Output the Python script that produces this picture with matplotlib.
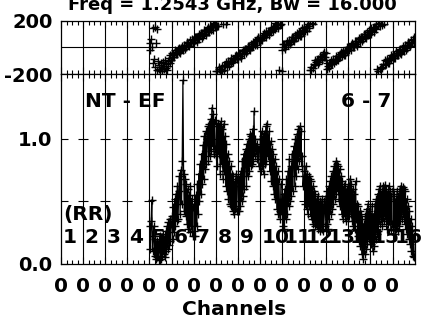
import matplotlib
matplotlib.use('Agg')
import matplotlib.pyplot as plt
import numpy as np

plt.rcParams['font.family'] = ['DejaVu Sans']
plt.rcParams['font.weight'] = 'bold'

# ---------------- data ----------------
n_if = 16
n_chan = 32
first_if = 5
if_labels = [str(i) for i in range(1, 17)]
xtick_labels = ['0'] * 16
title = 'Freq = 1.2543 GHz, Bw = 16.000'
baseline_label = 'NT - EF'
ant_label = '6 - 7'
pol_label = '(RR)'
phase_ticks = [-200, 200]
phase_tick_labels = ['-200', '200']
amp_ticks = [0.0, 0.5, 1.0]
amp_tick_labels = ['0.0', '', '1.0']

amp_if05 = [0.30, 0.12, 0.34, 0.51, 0.10, 0.22, 0.30, 0.06, 0.20, 0.04, 0.18, 0.05, 0.16, 0.03, 0.12, 0.22,
            0.04, 0.18, 0.06, 0.24, 0.08, 0.20, 0.05, 0.26, 0.10, 0.30, 0.12, 0.33, 0.15, 0.36, 0.18, 0.32]
amp_if06 = [0.38, 0.20, 0.45, 0.25, 0.52, 0.30, 0.56, 0.34, 0.62, 0.36, 0.58, 0.70, 0.40, 0.75, 0.48, 0.82,
            1.47, 0.72, 0.42, 0.68, 0.38, 0.64, 0.32, 0.60, 0.28, 0.55, 0.25, 0.62, 0.30, 0.52, 0.22, 0.45]
amp_if07 = [0.26, 0.48, 0.22, 0.55, 0.30, 0.64, 0.40, 0.72, 0.50, 0.80, 0.56, 0.88, 0.64, 0.95, 0.68, 1.02,
            0.76, 1.06, 0.80, 1.00, 1.10, 0.82, 1.12, 0.86, 1.16, 0.90, 1.25, 0.94, 1.20, 0.88, 1.15, 0.92]
amp_if08 = [0.86, 1.10, 0.78, 1.12, 0.88, 1.10, 0.72, 1.14, 0.80, 1.08, 0.68, 1.12, 0.74, 1.02, 0.62, 0.96,
            0.58, 0.88, 0.52, 0.82, 0.48, 0.78, 0.46, 0.72, 0.42, 0.70, 0.40, 0.66, 0.44, 0.72, 0.42, 0.68]
amp_if09 = [0.62, 0.42, 0.70, 0.46, 0.74, 0.50, 0.82, 0.54, 0.88, 0.60, 0.84, 0.92, 0.62, 0.96, 0.70, 1.00,
            0.74, 1.04, 0.78, 1.02, 0.80, 1.08, 0.82, 1.22, 0.86, 1.00, 0.90, 0.96, 0.84, 0.92, 0.78, 0.94]
amp_if10 = [1.00, 0.74, 1.06, 0.78, 1.02, 0.72, 1.04, 0.80, 1.10, 0.82, 1.12, 0.86, 0.96, 1.06, 0.74, 0.98,
            0.66, 0.92, 0.62, 0.88, 0.56, 0.84, 0.52, 0.78, 0.44, 0.74, 0.40, 0.68, 0.42, 0.36, 0.64, 0.40]
amp_if11 = [0.52, 0.30, 0.56, 0.28, 0.60, 0.36, 0.68, 0.40, 0.74, 0.46, 0.84, 0.50, 0.78, 0.54, 0.88, 0.58,
            0.82, 0.94, 0.62, 1.00, 0.70, 1.04, 0.76, 1.08, 0.82, 1.10, 0.86, 1.06, 0.78, 0.86, 0.62, 0.70]
amp_if12 = [0.74, 0.48, 0.78, 0.44, 0.72, 0.40, 0.70, 0.46, 0.68, 0.38, 0.66, 0.36, 0.62, 0.32, 0.58, 0.30,
            0.56, 0.32, 0.52, 0.28, 0.54, 0.30, 0.50, 0.26, 0.48, 0.28, 0.52, 0.26, 0.46, 0.50, 0.30, 0.54]
amp_if13 = [0.32, 0.58, 0.28, 0.62, 0.36, 0.66, 0.40, 0.70, 0.44, 0.74, 0.48, 0.78, 0.52, 0.82, 0.56, 0.80,
            0.58, 0.78, 0.50, 0.76, 0.46, 0.70, 0.40, 0.66, 0.36, 0.62, 0.38, 0.64, 0.34, 0.60, 0.38, 0.58]
amp_if14 = [0.62, 0.38, 0.68, 0.40, 0.64, 0.34, 0.60, 0.30, 0.56, 0.28, 0.66, 0.36, 0.48, 0.22, 0.46, 0.18,
            0.42, 0.14, 0.40, 0.08, 0.36, 0.04, 0.32, 0.08, 0.38, 0.12, 0.44, 0.16, 0.48, 0.20, 0.42, 0.18]
amp_if15 = [0.38, 0.16, 0.46, 0.10, 0.40, 0.14, 0.48, 0.20, 0.52, 0.24, 0.56, 0.26, 0.60, 0.32, 0.62, 0.36,
            0.58, 0.30, 0.62, 0.34, 0.63, 0.38, 0.60, 0.28, 0.56, 0.32, 0.62, 0.34, 0.58, 0.28, 0.54, 0.32]
amp_if16 = [0.60, 0.32, 0.56, 0.24, 0.52, 0.28, 0.58, 0.26, 0.54, 0.30, 0.60, 0.34, 0.62, 0.36, 0.61, 0.40,
            0.60, 0.32, 0.58, 0.28, 0.52, 0.24, 0.46, 0.20, 0.42, 0.16, 0.36, 0.10, 0.30, 0.06, 0.22, 0.05]

phase_if05 = [35, -20, 60, 5, -120, 145, -90, 150, -150, 30, 138, -170, -100, -160, -130, -175,
              -120, -150, -180, -110, -140, -165, -95, -155, -125, -170, -105, -140, -80, -120, -60, -95]
phase_if06 = [-45, -73, -50, -74, -37, -20, -51, -35, -52, -11, -33, -9, -44, -7, -16, 13,
              -21, 3, 17, -15, 17, 1, 40, 15, 34, 8, 33, 51, 29, 62, 30, 56]
phase_if07 = [34, 76, 53, 77, 42, 79, 71, 99, 65, 89, 103, 72, 103, 87, 126, 101,
              121, 94, 119, 137, 115, 149, 116, 142, 156, 128, 152, 127, 165, 178, 150, 167]
phase_if08 = [-175, 157, -179, 157, -165, -148, -179, -162, -179, -137, 172, -135, -169, -132, 176, -111,
              -145, -120, -106, -137, -105, -121, -81, -106, -86, -112, -87, -68, -90, -56, -88, -62]
phase_if09 = [-88, -46, -68, -44, -77, -40, -48, -19, -53, -28, -14, -44, -12, -28, 12, -13,
              7, -18, 7, 26, 4, 38, 6, 32, 48, 20, 44, 20, 58, 75, 45, 62]
phase_if10 = [80, 53, 77, 53, 91, 108, 77, 94, 78, 120, 98, 122, 88, 125, 118, 147,
              113, 138, 152, 121, 153, 138, 178, 153, 173, 147, 172, -169, 170, 176, 172, -178]
phase_if11 = [-21, 21, -1, 23, -10, 27, 19, 48, 14, 39, 54, 23, 55, 39, 79, 54,
              74, 49, 74, 93, 71, 105, 73, 99, 115, 87, 111, 87, 125, 142, 112, 129]
phase_if12 = [148, 120, 144, 120, 159, 176, 145, 162, -169, -173, -149, 178, -158, 175, -128, -99,
              -132, -107, -93, -123, -91, -107, -66, -91, -71, -96, -71, -52, -73, -39, -71, -44]
phase_if13 = [-163, -121, -143, -119, -152, -115, -123, -94, -128, -103, -89, -119, -87, -103, -63, -88,
              -68, -93, -68, -49, -71, -37, -69, -43, -27, -55, -31, -55, -17, 0, -31, -13]
phase_if14 = [5, -23, 1, -23, 16, 33, 2, 19, 2, 44, 23, 47, 13, 50, 42, 71,
              37, 63, 77, 46, 78, 62, 102, 77, 98, 72, 97, 116, 94, 128, 97, 123]
phase_if15 = [102, 144, 122, 146, 113, 150, 142, 171, 137, -159, 176, -177, 178, -161, 160, -146,
              166, -152, -127, 172, -130, -96, -128, -102, -87, -115, -91, -115, -77, -60, -91, -75]
phase_if16 = [-56, -84, -60, -84, -46, -29, -60, -43, -60, -18, -40, -16, -50, -13, -21, 9,
              -26, 0, 14, -18, 15, -2, 39, 14, 34, 8, 33, 52, 30, 64, 32, 80]

amps = [amp_if05, amp_if06, amp_if07, amp_if08, amp_if09, amp_if10,
        amp_if11, amp_if12, amp_if13, amp_if14, amp_if15, amp_if16]
phases = [phase_if05, phase_if06, phase_if07, phase_if08, phase_if09, phase_if10,
          phase_if11, phase_if12, phase_if13, phase_if14, phase_if15, phase_if16]

# ---------------- figure ----------------
W, H = 421, 320
fig = plt.figure(figsize=(W / 100, H / 100), dpi=100)
left, right = 61, 414.6
ax_p = fig.add_axes([left / W, 1 - 74 / H, (right - left) / W, (74 - 20.5) / H])
ax_a = fig.add_axes([left / W, 1 - 263.5 / H, (right - left) / W, (263.5 - 74) / H])

mk = dict(color='black', marker='+', ms=6, mew=1.0)
for i, (a, p) in enumerate(zip(amps, phases)):
    k = first_if - 1 + i
    x = k + (np.arange(n_chan) + 0.5) / n_chan
    ax_a.plot(x, a, lw=0.9, **mk)
    ax_p.plot(x, p, ls='none', **mk)

bounds = np.arange(1, n_if)
for ax in (ax_p, ax_a):
    for b in bounds:
        ax.axvline(b, color='black', lw=0.8, zorder=1)
    ax.set_xlim(0, n_if)
    ax.set_xticks(np.arange(n_if))
    ax.set_xticks(np.arange(0, n_if, 0.25), minor=True)
    ax.tick_params(axis='both', which='both', direction='in', top=True, right=True)
    ax.tick_params(which='major', length=5, width=0.8)
    ax.tick_params(which='minor', length=3, width=0.8)
    for s in ax.spines.values():
        s.set_linewidth(0.9)

ax_p.axhline(0, color='black', lw=0.8)
ax_p.set_ylim(-200, 200)
ax_p.set_yticks(phase_ticks)
ax_p.set_yticklabels(phase_tick_labels, fontsize=14, fontweight='bold')
ax_p.set_xticklabels([])
ax_p.tick_params(axis='y', pad=6)

ax_a.set_ylim(0, 1.52)
ax_a.set_yticks(amp_ticks)
ax_a.set_yticklabels(amp_tick_labels, fontsize=14, fontweight='bold')
ax_a.set_xticklabels(xtick_labels, fontsize=14.5, fontweight='bold')
ax_a.tick_params(axis='x', pad=9.5)
ax_a.tick_params(axis='y', pad=6)
for lvl in (0.5, 1.0):
    ax_a.plot(bounds, [lvl] * len(bounds), ls='none', marker='_', ms=7, mew=0.8, color='black')

tk = dict(fontsize=14.5, fontweight='bold', va='baseline')
ax_a.text(1.08, 1.255, baseline_label, ha='left', **tk)
ax_a.text(14.96, 1.255, ant_label, ha='right', **tk)
ax_a.text(0.08, 0.35, pol_label, ha='left', **tk)
for k, lab in enumerate(if_labels):
    ax_a.text(k + 0.08, 0.164, lab, ha='left', **tk)

fig.text(232 / W, 1 - 10 / H, title, ha='center', va='baseline', fontsize=13, fontweight='bold')
fig.text(234 / W, 1 - 315 / H, 'Channels', ha='center', va='baseline', fontsize=14.5, fontweight='bold')

fig.savefig('out.png', dpi=100)
